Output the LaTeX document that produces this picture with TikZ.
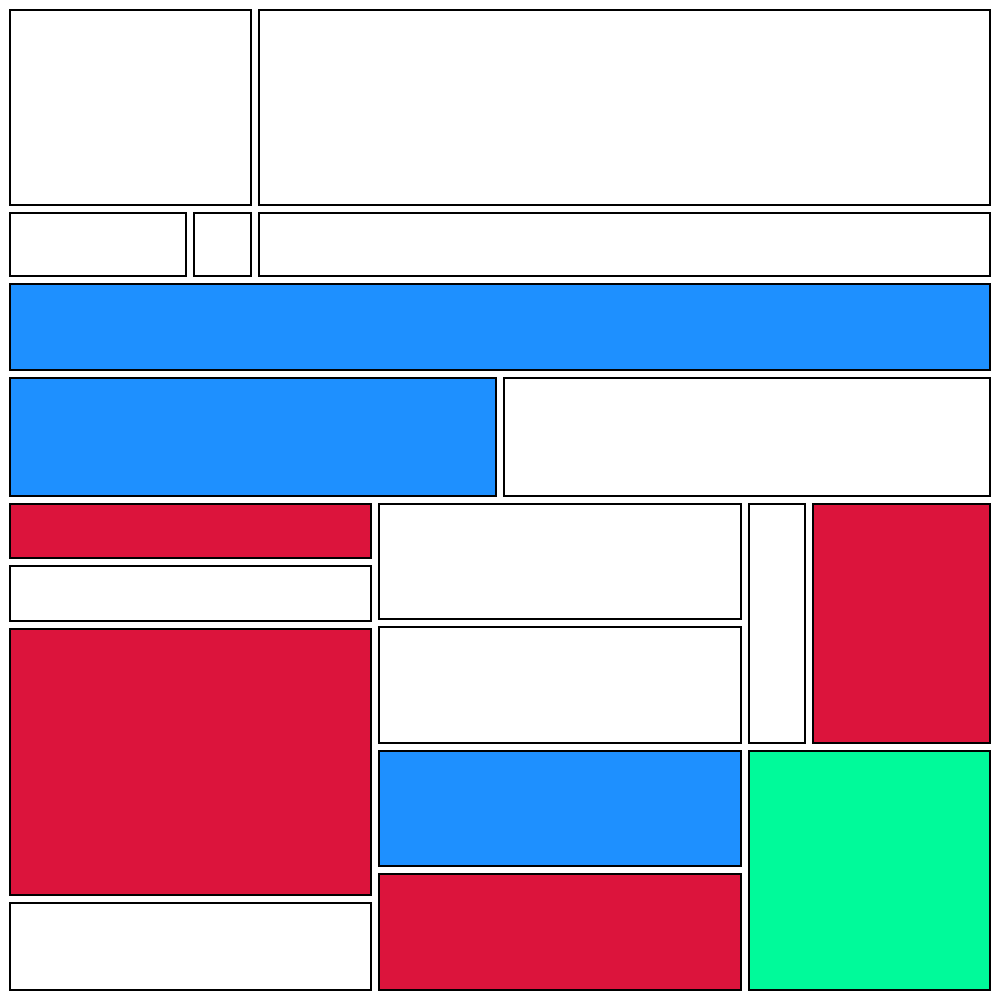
\documentclass[tikz,border=0pt]{standalone}
\definecolor{cellblue}{RGB}{30,144,255}
\definecolor{cellred}{RGB}{220,20,60}
\definecolor{cellgreen}{RGB}{0,250,154}
\tikzset{
  cell/.style={draw=black, line width=0.6pt, fill=white},
}
\begin{document}
\begin{tikzpicture}[x=0.1mm, y=-0.1mm]
        % Page
        \useasboundingbox[fill=white] (0,0) rectangle (1000,1000);
        % Top rows
        \draw[cell] (10,10) rectangle (251,205);
        \draw[cell] (259,10) rectangle (990,205);
        \draw[cell] (10,213) rectangle (186,276);
        \draw[cell] (194,213) rectangle (251,276);
        \draw[cell] (259,213) rectangle (990,276);
        % Full-width band
        \draw[cell, fill=cellblue] (10,284) rectangle (990,370);
        \draw[cell, fill=cellblue] (10,378) rectangle (496,496);
        \draw[cell] (504,378) rectangle (990,496);
        % Left column
        \draw[cell, fill=cellred] (10,504) rectangle (371,558);
        \draw[cell] (10,566) rectangle (371,621);
        \draw[cell, fill=cellred] (10,629) rectangle (371,895);
        \draw[cell] (10,903) rectangle (371,990);
        % Middle column
        \draw[cell] (379,504) rectangle (741,619);
        \draw[cell] (379,627) rectangle (741,743);
        \draw[cell, fill=cellblue] (379,751) rectangle (741,866);
        \draw[cell, fill=cellred] (379,874) rectangle (741,990);
        % Right column
        \draw[cell] (749,504) rectangle (805,743);
        \draw[cell, fill=cellred] (813,504) rectangle (990,743);
        \draw[cell, fill=cellgreen] (749,751) rectangle (990,990);
      \end{tikzpicture}
\end{document}
